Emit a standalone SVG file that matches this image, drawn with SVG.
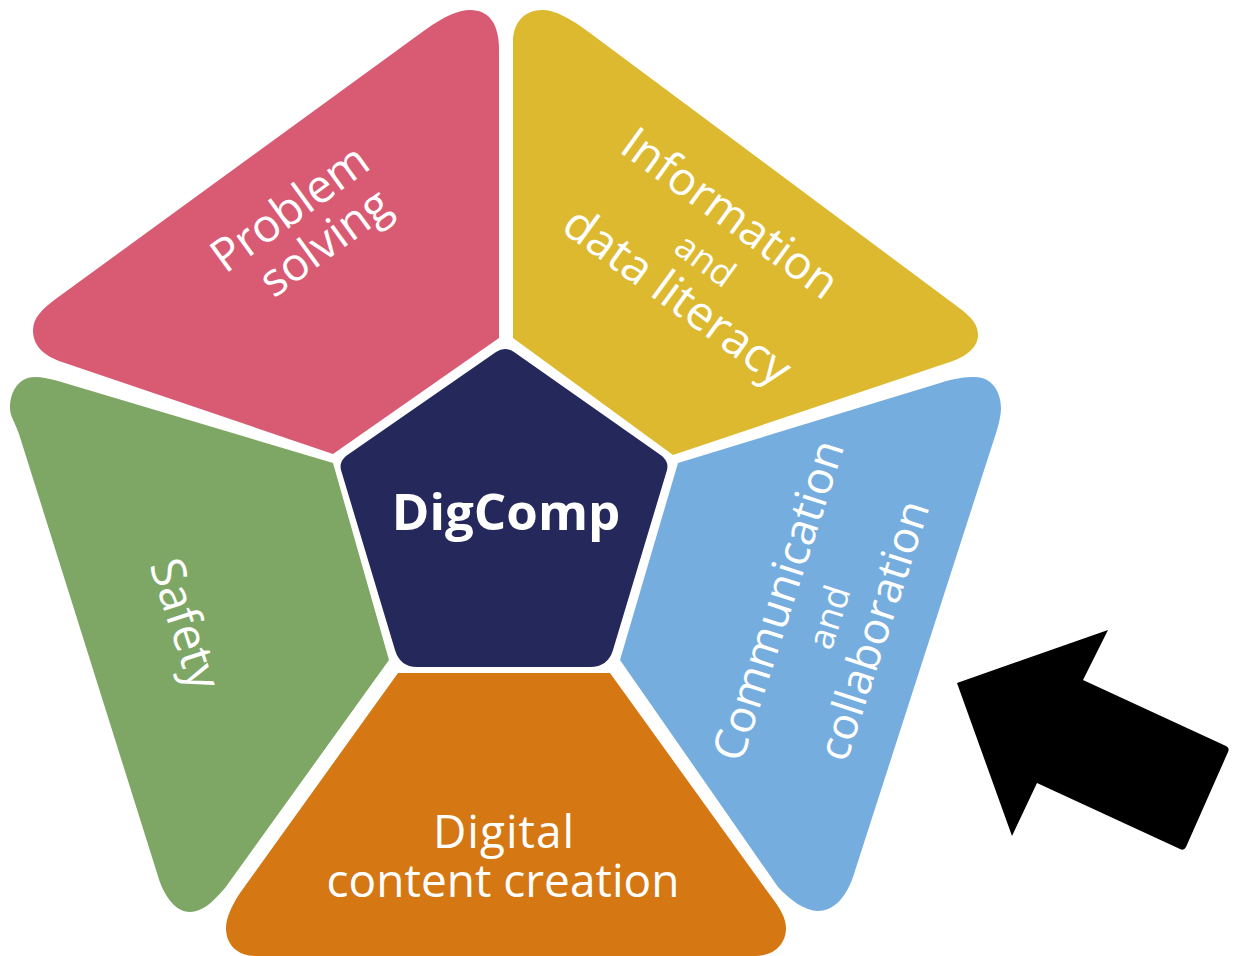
<svg xmlns="http://www.w3.org/2000/svg" width="1238" height="956" viewBox="0 0 1238 956">
<style>
text{font-family:"Open Sans","Noto Sans","Liberation Sans",sans-serif;fill:#fff;text-anchor:middle}
.l{font-size:46px}
.m{font-size:36px}
</style>
<rect width="1238" height="956" fill="#fff"/>
<g id="problem-solving">
<path fill="#d85a73" d="M57,298 L425,30 C445,16 458,10 470,10 C490,10 499,25 499,50 L499,338 L333,454 L62,362 C42,355 33,345 33,330 C33,318 42,309 57,298 Z"/>
<text class="l" transform="translate(299,221) rotate(-36)">Problem</text>
<text class="l" transform="translate(334,255) rotate(-36)">solving</text>
</g>
<g id="information">
<path fill="#ddb930" d="M513,338 L513,42 C513,22 525,10 542,10 C555,10 570,18 590,33 L962,310 C972,318 978,325 978,335 C978,348 965,357 950,362 L673,455 Z"/>
<text class="l" transform="translate(721,226) rotate(36)">Information</text>
<text class="m" transform="translate(698,270) rotate(36)">and</text>
<text class="l" style="font-size:47px" transform="translate(668,309) rotate(36)">data literacy</text>
</g>
<g id="communication">
<path fill="#76addf" d="M678,463 L940,383 C955,378 965,377 975,377 C992,377 1001,392 1001,408 C1001,415 999,423 997,430 L853,877 C845,900 832,911 818,911 C805,911 790,900 778,887 L620,660 Z"/>
<text class="l" style="font-size:45px" transform="translate(793,605) rotate(-72)">Communication</text>
<text class="m" transform="translate(841,621) rotate(-72)">and</text>
<text class="l" style="font-size:44px" transform="translate(888,635) rotate(-72)">collaboration</text>
</g>
<g id="content-creation">
<path fill="#d57713" d="M398,673 L610,673 L770,895 C780,908 786,918 786,928 C786,945 773,956 755,956 L255,956 C238,956 226,945 226,928 C226,918 232,905 240,893 Z"/>
<text class="l" x="504" y="848" style="letter-spacing:1px">Digital</text>
<text class="l" x="503" y="897">content creation</text>
</g>
<g id="safety">
<path fill="#7ea765" d="M10,408 C10,390 20,377 35,377 C42,377 50,379 58,381 L333,463 L389,660 L225,888 C212,903 202,912 190,912 C175,912 163,895 157,873 L19,434 C14,420 10,416 10,408 Z"/>
<text class="l" style="font-size:47px" transform="translate(170,629) rotate(72)">Safety</text>
</g>
<g id="digcomp">
<path fill="#25285b" d="M496,352 Q505,346 514,352 L662,456 Q669,462 667,470 L613,650 Q608,667 590,667 L417,667 Q400,667 395,650 L341,470 Q339,462 346,456 Z"/>
<text x="506" y="530" font-size="51" font-weight="700">DigComp</text>
</g>
<g id="connectors">
<path id="arrow" fill="#000" d="M957,683 L1108,630 L1083,680 L1226,746 Q1230,748 1228,752 L1186,847 Q1184,851 1180,849 L1037,783 L1012,836 Z"/>
</g>
</svg>
